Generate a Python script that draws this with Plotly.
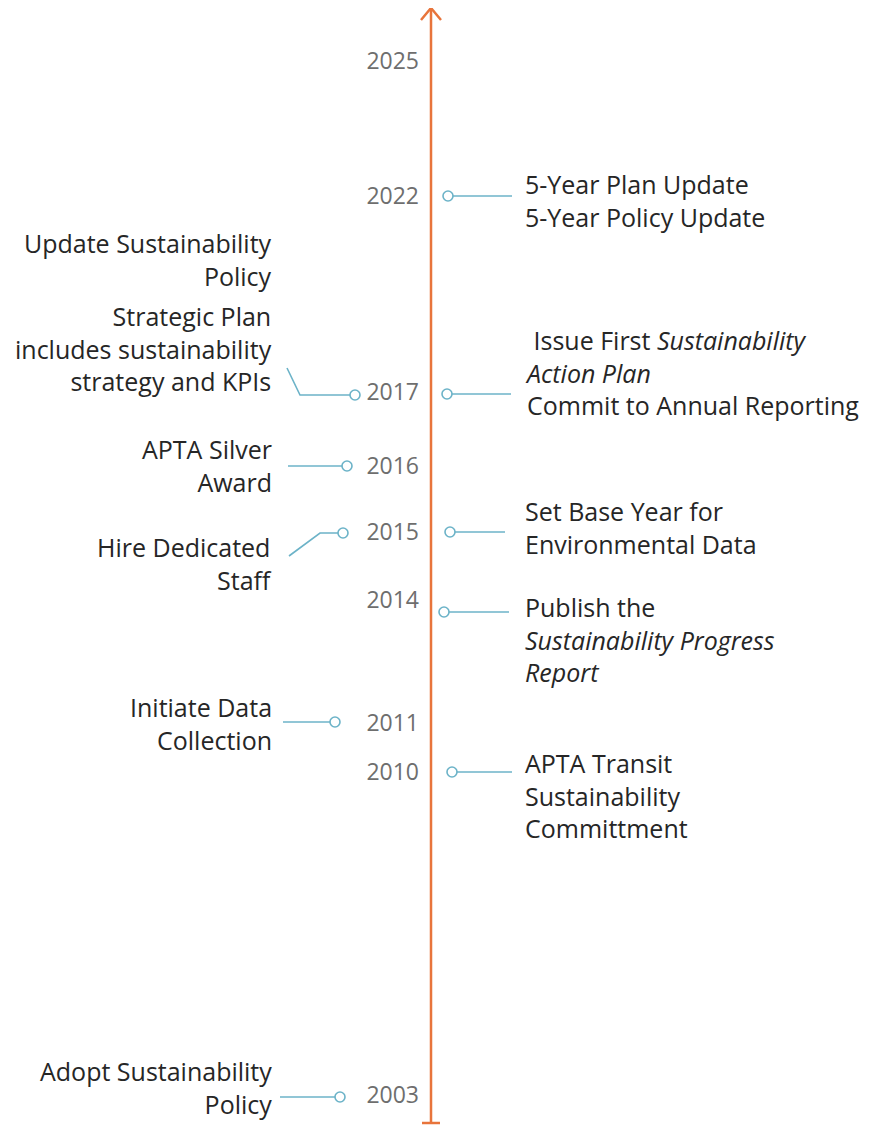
import plotly.graph_objects as go

## data ----
# years marked on the timeline and their vertical slot (top -> bottom)
years = [2025, 2022, 2017, 2016, 2015, 2014, 2011, 2010, 2003]
year_slot = [61, 196, 392, 466, 532, 600, 723, 772, 1095]

# events on the right of the axis
right_years = [2022, 2017, 2015, 2014, 2010]
right_labels = [
    "5-Year Plan Update<br>5-Year Policy Update",
    "&nbsp;Issue First <i>Sustainability</i><br><i>Action Plan</i><br>Commit to Annual Reporting",
    "Set Base Year for<br>Environmental Data",
    "Publish the<br><i>Sustainability Progress</i><br><i>Report</i>",
    "APTA Transit<br>Sustainability<br>Committment",
]

# events on the left of the axis (None = no marker on the axis)
left_years = [None, 2017, 2016, 2015, 2011, 2003]
left_labels = [
    "Update Sustainability<br>Policy",
    "Strategic Plan<br>includes sustainability<br>strategy and KPIs",
    "APTA Silver<br>Award",
    "Hire Dedicated<br>Staff",
    "Initiate Data<br>Collection",
    "Adopt Sustainability<br>Policy",
]

## style / layout ----
ORANGE = '#e8743b'
BLUE = '#6cb3c8'
TEXT = '#262626'
GREY = '#6e6e6e'
FONT = 'Open Sans'
AXIS_X = 431

# right connectors: marker x, line end x, vertical nudge, text first-line offset
right_marker_x = [448, 447, 450, 444, 452]
right_line_end = [512, 511, 505, 509, 512]
right_nudge = [0, 2, 0, 12, 0]
right_text_dy = [-10, -52, -19, -3, -7]
RIGHT_TEXT_X = 523

# left connectors drawn as (dx, dy) bends relative to the marker
left_paths = [
    None,
    [(-68, -27), (-55, 0), (0, 0)],
    [(-59, 0), (0, 0)],
    [(-54, 23), (-23, 0), (0, 0)],
    [(-52, 0), (0, 0)],
    [(-60, 0), (0, 0)],
]
left_marker_x = [None, 355, 347, 343, 335, 340]
left_nudge = [0, 3, 0, 1, -1, 2]
left_text_dy = [0, -77, -15, 16, -13, -24]
left_text_y_free = 245  # first-line centre for the entry without a marker
LEFT_TEXT_X = 274
TOP_PAD = 21  # distance from annotation top to centre of its first line

slot = dict(zip(years, year_slot))

fig = go.Figure()

# year labels
fig.add_trace(go.Scatter(
    x=[419] * len(years), y=[s + 2 for s in year_slot], mode='text',
    text=[str(y) for y in years], textposition='middle left',
    textfont=dict(family=FONT, size=23, color=GREY),
    hoverinfo='skip', showlegend=False,
))

# right connectors + labels
for yr, lab, mx, ex, nd, dy in zip(right_years, right_labels, right_marker_x,
                                   right_line_end, right_nudge, right_text_dy):
    yy = slot[yr] + nd
    fig.add_trace(go.Scatter(
        x=[mx, ex], y=[yy, yy], mode='lines',
        line=dict(color=BLUE, width=1.6), hoverinfo='skip', showlegend=False,
    ))
    fig.add_trace(go.Scatter(
        x=[mx], y=[yy], mode='markers',
        marker=dict(symbol='circle', size=10, color='white', line=dict(color=BLUE, width=1.6)),
        hoverinfo='skip', showlegend=False,
    ))
    fig.add_annotation(
        x=RIGHT_TEXT_X, y=yy + dy - TOP_PAD, text=lab, showarrow=False,
        xanchor='left', yanchor='top', align='left',
        font=dict(family=FONT, size=25, color=TEXT),
    )

# left connectors + labels
for yr, lab, path, mx, nd, dy in zip(left_years, left_labels, left_paths,
                                     left_marker_x, left_nudge, left_text_dy):
    if yr is None:
        ty = left_text_y_free
    else:
        yy = slot[yr] + nd
        fig.add_trace(go.Scatter(
            x=[mx + p[0] for p in path], y=[yy + p[1] for p in path], mode='lines',
            line=dict(color=BLUE, width=1.6), hoverinfo='skip', showlegend=False,
        ))
        fig.add_trace(go.Scatter(
            x=[mx], y=[yy], mode='markers',
            marker=dict(symbol='circle', size=10, color='white', line=dict(color=BLUE, width=1.6)),
            hoverinfo='skip', showlegend=False,
        ))
        ty = yy + dy
    fig.add_annotation(
        x=LEFT_TEXT_X, y=ty - TOP_PAD, text=lab, showarrow=False,
        xanchor='right', yanchor='top', align='right',
        font=dict(family=FONT, size=25, color=TEXT),
    )

# the orange axis with arrow head and end tick
fig.add_shape(type='line', x0=AXIS_X, x1=AXIS_X, y0=1123, y1=8,
              line=dict(color=ORANGE, width=2.5), layer='below')
fig.add_shape(type='path', path=f'M {AXIS_X-10},20 L {AXIS_X},8 L {AXIS_X+10},20',
              line=dict(color=ORANGE, width=2.5))
fig.add_shape(type='line', x0=AXIS_X - 9, x1=AXIS_X + 9, y0=1123, y1=1123,
              line=dict(color=ORANGE, width=2.5))

fig.update_layout(
    width=853, height=1117,
    margin=dict(l=0, r=0, t=0, b=0),
    paper_bgcolor='white', plot_bgcolor='white',
    xaxis=dict(range=[8, 861], visible=False, fixedrange=True),
    yaxis=dict(range=[1125, 8], visible=False, fixedrange=True),
    showlegend=False,
)

fig.write_html("out.html")
